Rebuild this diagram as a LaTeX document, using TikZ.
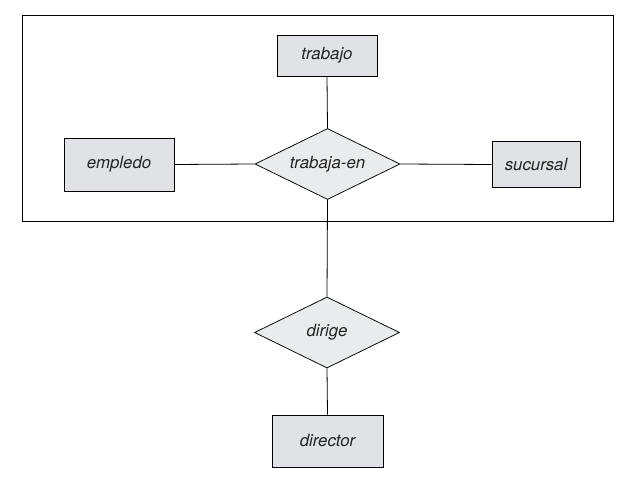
\documentclass[tikz,border=0pt]{standalone}
\usepackage{fontspec}
\setmainfont{TeX Gyre Heros}
\usetikzlibrary{shapes.geometric}
\definecolor{entfill}{RGB}{224,226,229}
\definecolor{relfill}{RGB}{234,235,236}
\definecolor{txt}{RGB}{35,35,35}
\begin{document}
\begin{tikzpicture}[x=1pt,y=-1pt,
  every node/.style={font=\fontsize{16.8}{18}\selectfont\itshape, text=txt},
  entity/.style={draw=black, line width=0.9pt, fill=entfill, inner sep=0pt, rectangle},
  rel/.style={draw=black, line width=0.75pt, fill=relfill, diamond, inner sep=0pt, aspect=2, minimum width=145pt, minimum height=71pt},
  link/.style={draw=black, line width=0.8pt}]
\useasboundingbox (0,0) rectangle (634,478);
\draw[line width=0.75pt] (22,15) rectangle (613,221);
\node[entity, minimum width=100pt, minimum height=41pt] (trabajo) at (327,55.5) {trabajo};
\node[rel] (te) at (327.5,164) {trabaja-en};
\node[entity, minimum width=110pt, minimum height=53pt] (empleado) at (119,164.5) {empledo};
\node[entity, minimum width=88pt, minimum height=46pt] (sucursal) at (536,164.5) {sucursal};
\node[rel] (dirige) at (327,332.5) {dirige};
\node[entity, minimum width=111pt, minimum height=52pt] (director) at (327.5,441) {director};
\draw[link] (trabajo.south) -- (te.north);
\draw[link] (empleado.east) -- (te.west);
\draw[link] (te.east) -- (sucursal.west);
\draw[link] (te.south) -- (dirige.north);
\draw[link] (dirige.south) -- (director.north);
\end{tikzpicture}
\end{document}
